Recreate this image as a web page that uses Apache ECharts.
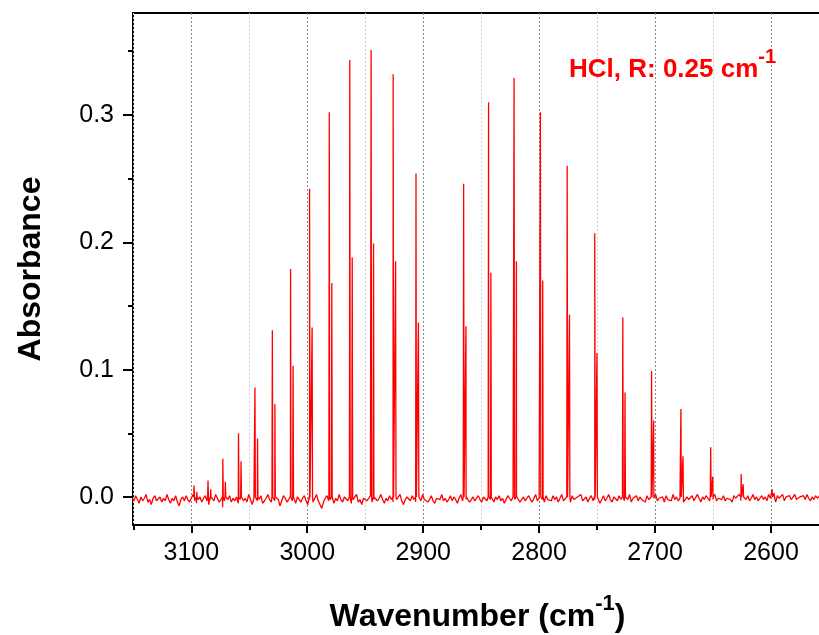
<!DOCTYPE html>
<html><head><meta charset="utf-8">
<script src="https://cdn.jsdelivr.net/npm/echarts@6/dist/echarts.min.js"></script>
<style>html,body{margin:0;padding:0;background:#fff}#c{width:819px;height:635px}</style>
</head><body><div id="c"></div>
<script>
// H35Cl lines (R branch then P branch): wavenumber (cm-1) and absorbance
const peak35Wn  = [3097.6, 3085.6, 3072.8, 3059.3, 3045.1, 3030.1, 3014.4, 2998.0, 2981.0, 2963.3, 2944.9, 2925.9, 2906.2,
                   2865.1, 2843.6, 2821.6, 2798.9, 2775.8, 2752.0, 2727.8, 2703.0, 2677.7, 2652.0, 2625.7, 2599.0];
const peak35Abs = [0.009, 0.013, 0.030, 0.050, 0.086, 0.131, 0.179, 0.242, 0.302, 0.343, 0.351, 0.332, 0.254,
                   0.246, 0.310, 0.329, 0.302, 0.260, 0.207, 0.141, 0.099, 0.069, 0.039, 0.018, 0.006];
// H37Cl lines
const peak37Wn  = [3095.3, 3083.3, 3070.6, 3057.1, 3042.9, 3027.9, 3012.2, 2995.8, 2978.8, 2961.2, 2942.8, 2923.8, 2904.1,
                   2863.1, 2841.6, 2819.6, 2796.9, 2773.8, 2750.1, 2725.9, 2701.2, 2675.9, 2650.2, 2624.0, 2597.3];
const peak37Abs = [0.004, 0.006, 0.012, 0.028, 0.046, 0.073, 0.103, 0.133, 0.168, 0.188, 0.199, 0.185, 0.137,
                   0.134, 0.176, 0.185, 0.170, 0.143, 0.113, 0.082, 0.060, 0.032, 0.016, 0.010, 0.003];
// baseline noise, read every 1.5 cm-1 starting at 3151 cm-1
const baseStart = 3151;
const baseStep = -1.5;
const baseNoise = [
 -0.001,-0.003, 0.001,-0.002,-0.005, 0.000,-0.003,-0.001, 0.002,-0.004,-0.002,-0.006,-0.001, 0.001,-0.003,-0.002, 0.000,-0.004,-0.001,-0.003,
  0.002,-0.002,-0.005,-0.001,-0.003, 0.001,-0.004,-0.007,-0.002, 0.000,-0.003, 0.001,-0.002,-0.004,-0.001, 0.002,-0.003,-0.005,-0.002, 0.000,
 -0.004,-0.001, 0.001,-0.003,-0.006,-0.002, 0.000,-0.003, 0.002,-0.001,-0.004,-0.002,-0.008,-0.003, 0.000,-0.002, 0.001,-0.004,-0.001,-0.003,
  0.000,-0.005,-0.002, 0.001,-0.003,-0.001,-0.004, 0.002,-0.002,-0.006,-0.001, 0.000,-0.003,-0.002, 0.001,-0.005,-0.003,-0.001, 0.002,-0.002,
 -0.004,-0.001,-0.003, 0.000,-0.002,-0.007,-0.003, 0.001,-0.001,-0.004,-0.002, 0.002,-0.003,-0.001,-0.005, 0.000,-0.002,-0.004,-0.001, 0.001,
 -0.003,-0.006,-0.002, 0.000,-0.004,-0.001, 0.002,-0.003,-0.002,-0.009,-0.004,-0.001, 0.001,-0.003,-0.002, 0.000,-0.005,-0.001,-0.003, 0.002,
 -0.002,-0.004, 0.000,-0.001,-0.003, 0.001,-0.005,-0.002,-0.001, 0.002,-0.004,-0.002,-0.006,-0.001, 0.000,-0.003,-0.001, 0.001,-0.004,-0.002,
  0.000,-0.003,-0.001, 0.002,-0.002,-0.005,-0.001,-0.003, 0.001,-0.002,-0.004, 0.000,-0.002,-0.001, 0.002,-0.003,-0.006,-0.002, 0.000,-0.001,
 -0.003, 0.001,-0.002,-0.004,-0.001, 0.000,-0.003, 0.002,-0.002,-0.001,-0.004,-0.002, 0.001,-0.003,-0.005,-0.001, 0.000,-0.002, 0.002,-0.003,
 -0.001,-0.004,-0.002, 0.001,-0.003, 0.000,-0.002,-0.005,-0.001, 0.002,-0.003,-0.001,-0.002, 0.001,-0.004,-0.002, 0.000,-0.003,-0.001, 0.001,
 -0.002,-0.004, 0.000,-0.001,-0.003, 0.002,-0.002,-0.001,-0.004, 0.000,-0.002, 0.001,-0.003,-0.001,-0.005,-0.002, 0.001,-0.001,-0.003, 0.000,
 -0.002, 0.002,-0.001,-0.004,-0.002, 0.000,-0.003,-0.001, 0.001,-0.002,-0.004,-0.001, 0.002,-0.003,-0.001, 0.000,-0.002,-0.004, 0.001,-0.002,
 -0.001,-0.003, 0.001,-0.002, 0.000,-0.004,-0.001, 0.002,-0.003,-0.002, 0.000,-0.001,-0.004, 0.001,-0.002,-0.003, 0.000,-0.001, 0.002,-0.003,
 -0.002, 0.000,-0.004,-0.001, 0.001,-0.003,-0.002, 0.000,-0.001,-0.005,-0.002, 0.001,-0.003,-0.001, 0.002,-0.002,-0.004, 0.000,-0.001,-0.003,
  0.001,-0.002,-0.001,-0.003, 0.000,-0.002, 0.002,-0.004,-0.001,-0.002, 0.001,-0.003, 0.000,-0.002,-0.001,-0.004, 0.001,-0.002,-0.003, 0.000,
 -0.001, 0.002,-0.003,-0.001,-0.002, 0.000,-0.004, 0.001,-0.002,-0.001,-0.003, 0.002,-0.002, 0.000,-0.003,-0.001, 0.001,-0.004,-0.002, 0.000,
 -0.002,-0.001, 0.001,-0.003,-0.002, 0.002,-0.001,-0.004, 0.000,-0.002, 0.001,-0.001,-0.003, 0.000,-0.002, 0.002,-0.003,-0.001, 0.000,-0.002,
  0.001,-0.003,-0.001, 0.000,-0.002,-0.004, 0.001,-0.001,-0.002, 0.002,-0.003, 0.000,-0.001,-0.002, 0.001,-0.003,-0.001, 0.002,-0.002, 0.000,
 -0.003,-0.001, 0.001,-0.002, 0.000,-0.003, 0.002,-0.001,-0.002, 0.000,-0.004, 0.001,-0.001,-0.002, 0.002,-0.003, 0.000,-0.001, 0.001,-0.002,
 -0.001, 0.002,-0.002,-0.003, 0.000,-0.001, 0.001,-0.002, 0.002,-0.001,-0.003, 0.000,-0.002, 0.001,-0.001,-0.002, 0.002,-0.003,-0.001, 0.000
];
const xLabelValues = [3100, 3000, 2900, 2800, 2700, 2600];
const xMinorValues = [3150, 3050, 2950, 2850, 2750, 2650];
const yLabelValues = [0, 0.1, 0.2, 0.3];
const yMinorValues = [0.05, 0.15, 0.25, 0.35];

const FONT = 'Liberation Sans, Arial, sans-serif';
const pts = [];
baseNoise.forEach((v, i) => pts.push([baseStart + i * baseStep, v]));
function addPeak(w, h) { pts.push([w + 0.35, 0]); pts.push([w, h]); pts.push([w - 0.35, 0]); }
peak35Wn.forEach((w, i) => addPeak(w, peak35Abs[i]));
peak37Wn.forEach((w, i) => addPeak(w, peak37Abs[i]));
pts.sort((a, b) => b[0] - a[0]);

const XMIN = 2556, XMAX = 3150.3, YMIN = -0.022, YMAX = 0.38;
const chart = echarts.init(document.getElementById('c'), null, {renderer: 'canvas'});
chart.setOption({
  animation: false,
  backgroundColor: '#fff',
  title: {
    text: '{a|HCl, R: 0.25 cm}{b|-1}',
    left: 564, top: 42,
    textStyle: {
      rich: {
        a: {fontFamily: FONT, fontSize: 26, fontWeight: 'bold', color: '#ff0000', lineHeight: 36, verticalAlign: 'bottom'},
        b: {fontFamily: FONT, fontSize: 20, fontWeight: 'bold', color: '#ff0000', lineHeight: 36, verticalAlign: 'top'}
      }
    }
  },
  grid: {left: 133, top: 13, right: -3, bottom: 110, show: true, borderColor: '#000', borderWidth: 2,
         containLabel: false, outerBoundsMode: 'none'},
  xAxis: [{
    type: 'value', inverse: true, min: XMIN, max: XMAX, position: 'bottom',
    axisLine: {show: false, onZero: false},
    axisTick: {show: true, inside: false, length: 8, lineStyle: {color: '#000', width: 2}, customValues: xLabelValues},
    axisLabel: {customValues: xLabelValues, formatter: v => String(v), fontFamily: FONT, fontSize: 25, color: '#000', margin: 16},
    splitLine: {show: true, lineStyle: {color: '#8a8a8a', type: [2, 2], width: 1}},
    name: '{a|Wavenumber (cm}{b|-1}{a|)}',
    nameLocation: 'middle', nameGap: 68,
    nameTextStyle: {
      rich: {
        a: {fontFamily: FONT, fontSize: 32, fontWeight: 'bold', color: '#000', lineHeight: 40, verticalAlign: 'bottom'},
        b: {fontFamily: FONT, fontSize: 22, fontWeight: 'bold', color: '#000', lineHeight: 40, verticalAlign: 'top'}
      }
    }
  }, {
    type: 'value', inverse: true, min: XMIN, max: XMAX, position: 'bottom',
    axisLine: {show: false, onZero: false},
    axisTick: {show: true, inside: false, length: 5, lineStyle: {color: '#000', width: 2}, customValues: xMinorValues},
    axisLabel: {show: false, customValues: xMinorValues},
    splitLine: {show: true, lineStyle: {color: '#d0d0d0', type: [2, 2], width: 1}}
  }],
  yAxis: [{
    type: 'value', min: YMIN, max: YMAX, position: 'left',
    axisLine: {show: false, onZero: false},
    axisTick: {show: true, inside: false, length: 10, lineStyle: {color: '#000', width: 2}, customValues: yLabelValues},
    axisLabel: {customValues: yLabelValues, formatter: v => v.toFixed(1), fontFamily: FONT, fontSize: 25, color: '#000', margin: 19},
    splitLine: {show: false},
    name: 'Absorbance', nameLocation: 'middle', nameGap: 86, nameRotate: 90,
    nameTextStyle: {fontFamily: FONT, fontSize: 32, fontWeight: 'bold', color: '#000'}
  }, {
    type: 'value', min: YMIN, max: YMAX, position: 'left',
    axisLine: {show: false, onZero: false},
    axisTick: {show: true, inside: false, length: 5, lineStyle: {color: '#000', width: 2}, customValues: yMinorValues},
    axisLabel: {show: false, customValues: yMinorValues},
    splitLine: {show: false}
  }],
  series: [{
    type: 'line', xAxisIndex: 0, yAxisIndex: 0, data: pts,
    showSymbol: false, symbol: 'none', sampling: null, clip: true,
    lineStyle: {color: '#ff0000', width: 1.3}
  }]
});
</script></body></html>
